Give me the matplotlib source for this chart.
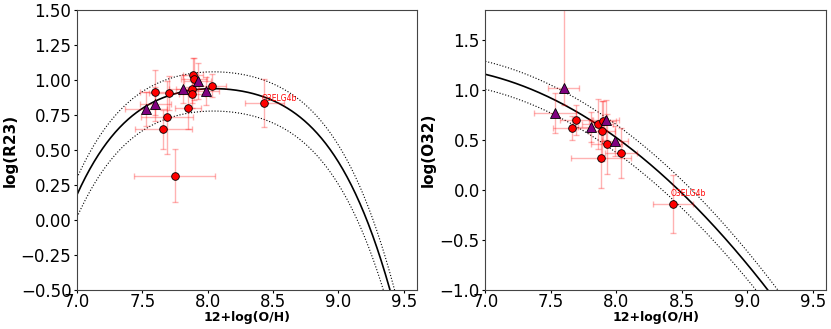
import numpy as np
import matplotlib
matplotlib.use("Agg")
import matplotlib.pyplot as plt

# Calibration coefficients (Maiolino et al. 2008), x = 12+log(O/H) - 8.69
r23_coeffs = [0.7462, -0.7149, -0.9401, -0.6154, -0.2524]
o32_coeffs = [-0.2839, -1.3881, -0.3172]
r23_band = (0.12, -0.16)   # offsets of dotted curves
o32_band = (0.13, -0.15)
zero_point = 8.69

# Left panel: circles
oh_r23 = [7.60, 7.70, 7.887, 7.895, 7.88, 7.88, 8.036, 7.85, 7.69, 7.66, 7.746, 8.433]
r23 = [0.912, 0.907, 1.036, 1.007, 0.936, 0.90, 0.96, 0.80, 0.733, 0.648, 0.316, 0.833]
oh_r23_err = [0.12, 0.15, 0.08, 0.10, 0.12, 0.10, 0.10, 0.10, 0.20, 0.22, 0.31, 0.15]
r23_err = [0.16, 0.12, 0.12, 0.15, 0.10, 0.10, 0.08, 0.15, 0.26, 0.14, 0.19, 0.17]

# Right panel: circles
oh_o32 = [7.692, 7.664, 7.857, 7.895, 7.89, 7.926, 8.036, 7.885, 8.433]
o32 = [0.70, 0.617, 0.66, 0.693, 0.59, 0.46, 0.373, 0.32, -0.14]
oh_o32_err = [0.12, 0.15, 0.12, 0.10, 0.10, 0.12, 0.12, 0.23, 0.15]
o32_err = [0.15, 0.12, 0.25, 0.20, 0.30, 0.30, 0.25, 0.30, 0.29]

# Triangles (both panels)
oh_tri = [7.53, 7.598, 7.807, 7.922, 7.987]
oh_tri_err = [0.16, 0.12, 0.10, 0.10, 0.10]
r23_tri = [0.793, 0.829, 0.938, 0.993, 0.921]
r23_tri_err = [0.12, 0.12, 0.10, 0.13, 0.10]
o32_tri = [0.773, 1.017, 0.627, 0.70, 0.493]
o32_tri_err_lo = [0.20, 0.17, 0.15, 0.20, 0.15]
o32_tri_err_hi = [0.20, 0.80, 0.15, 0.20, 0.15]

label_name = "O3ELG4b"
label_r23 = (8.415, 0.85)
label_o32 = (8.415, -0.06)

xticks = [7.0, 7.5, 8.0, 8.5, 9.0, 9.5]
r23_ticks = [-0.5, -0.25, 0.0, 0.25, 0.5, 0.75, 1.0, 1.25, 1.5]
o32_ticks = [-1.0, -0.5, 0.0, 0.5, 1.0, 1.5]

fig = plt.figure(figsize=(8.31, 3.29), dpi=100)
ax1 = fig.add_axes([0.0927, 0.1185, 0.409, 0.8515])
ax2 = fig.add_axes([0.584, 0.1185, 0.410, 0.8515])

xx = np.linspace(7.0, 9.6, 400)
def poly(c, x):
    t = x - zero_point
    return sum(ci * t**i for i, ci in enumerate(c))

ecol = (1.0, 0.0, 0.0, 0.3)

for ax, coeffs, band in [(ax1, r23_coeffs, r23_band), (ax2, o32_coeffs, o32_band)]:
    yy = poly(coeffs, xx)
    ax.plot(xx, yy, color='black', lw=1.2)
    ax.plot(xx, yy + band[0], color='black', lw=0.8, ls=':')
    ax.plot(xx, yy + band[1], color='black', lw=0.8, ls=':')

# left
ax1.errorbar(oh_r23, r23, xerr=oh_r23_err, yerr=r23_err, fmt='none', ecolor=ecol,
             elinewidth=1, capsize=2)
ax1.errorbar(oh_tri, r23_tri, xerr=oh_tri_err, yerr=r23_tri_err, fmt='none', ecolor=ecol,
             elinewidth=1, capsize=2)
ax1.plot(oh_r23, r23, 'o', color='red', mec='black', mew=0.6, ms=5.5, ls='none')
ax1.plot(oh_tri, r23_tri, '^', color='purple', mec='black', mew=0.6, ms=7, ls='none')
ax1.text(label_r23[0], label_r23[1], label_name, color='red', fontsize=5.5)

# right
ax2.errorbar(oh_o32, o32, xerr=oh_o32_err, yerr=o32_err, fmt='none', ecolor=ecol,
             elinewidth=1, capsize=2)
ax2.errorbar(oh_tri, o32_tri, xerr=oh_tri_err, yerr=[o32_tri_err_lo, o32_tri_err_hi],
             fmt='none', ecolor=ecol, elinewidth=1, capsize=2)
ax2.plot(oh_o32, o32, 'o', color='red', mec='black', mew=0.6, ms=5.5, ls='none')
ax2.plot(oh_tri, o32_tri, '^', color='purple', mec='black', mew=0.6, ms=7, ls='none')
ax2.text(label_o32[0], label_o32[1], label_name, color='red', fontsize=5.5)

ax1.set_xlim(7.0, 9.6)
ax1.set_ylim(-0.5, 1.5)
ax1.set_yticks(r23_ticks)
ax2.set_xlim(7.0, 9.6)
ax2.set_ylim(-1.0, 1.8)
ax2.set_yticks(o32_ticks)

for ax, lab, lp in [(ax1, 'log(R23)', 2), (ax2, 'log(O32)', 3)]:
    ax.set_xticks(xticks)
    ax.tick_params(labelsize=12, length=2.5)
    ax.tick_params(axis='x', pad=0)
    ax.tick_params(axis='y', pad=1.5)
    ax.set_xlabel('12+log(O/H)', fontsize=9, fontweight='bold', labelpad=0)
    ax.set_ylabel(lab, fontsize=11, fontweight='bold', labelpad=lp)
    for s in ax.spines.values():
        s.set_color('#444444')

fig.savefig('out.png', dpi=100)
